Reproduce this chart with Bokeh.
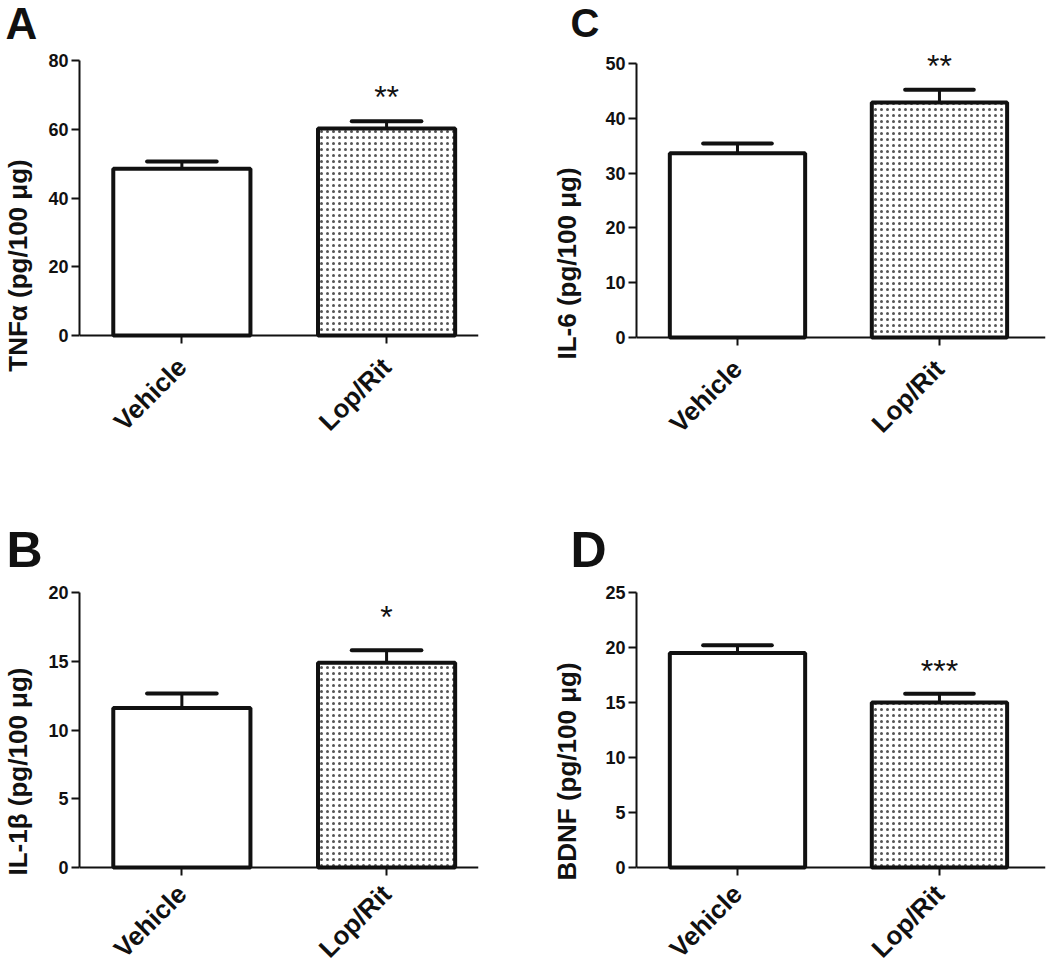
import math
from bokeh.plotting import figure
from bokeh.models import Range1d, FixedTicker, Label, ColumnDataSource
from bokeh.layouts import column, row
from bokeh.embed import file_html
from bokeh.resources import INLINE

# ---------------- data ----------------
categories = ["Vehicle", "Lop/Rit"]

tnf_mean = [48.5, 60.2]
tnf_sem = [2.1, 2.1]
il6_mean = [33.6, 42.9]
il6_sem = [1.8, 2.3]
il1b_mean = [11.6, 14.9]
il1b_sem = [1.05, 0.9]
bdnf_mean = [19.5, 15.0]
bdnf_sem = [0.7, 0.8]

tnf_ticks = [0, 20, 40, 60, 80]
il6_ticks = [0, 10, 20, 30, 40, 50]
il1b_ticks = [0, 5, 10, 15, 20]
bdnf_ticks = [0, 5, 10, 15, 20, 25]

sig_tnf = "**"
sig_il6 = "**"
sig_il1b = "*"
sig_bdnf = "***"

FONT = "Liberation Sans"
INK = "#111111"


def letter_strip(letter, width, height, lx, ly, size):
    p = figure(width=width, height=height, output_backend="svg",
               toolbar_location=None, tools="",
               x_range=Range1d(0, width), y_range=Range1d(0, height),
               x_axis_type=None, y_axis_type=None,
               min_border=0, min_border_left=0, min_border_right=0,
               min_border_top=0, min_border_bottom=0,
               frame_align=False)
    p.outline_line_color = None
    p.grid.visible = False
    p.add_layout(Label(x=lx, y=ly, text=letter, text_align="left",
                       text_baseline="alphabetic", text_font=FONT,
                       text_font_style="bold", text_font_size=f"{size}px",
                       text_color=INK))
    return p


def make_panel(ylabel, means, sems, yticks, sig,
               width, height, bl, br, x_end, frame_h, pad_px, below_px,
               star_dy, label_standoff, xlab_standoff):
    xs = [i + 1 for i in range(len(categories))]
    y_top = yticks[-1]
    per_px = y_top / frame_h
    y_end = y_top + pad_px * per_px
    y_start = -below_px * per_px
    p = figure(width=width, height=height, output_backend="svg",
               toolbar_location=None, tools="",
               x_range=Range1d(0.5, x_end),
               y_range=Range1d(y_start, y_end),
               min_border_left=bl, min_border_top=0,
               min_border_bottom=0, min_border_right=br,
               frame_align=False)
    p.outline_line_color = None
    p.grid.visible = False

    src = ColumnDataSource(dict(
        x=xs, top=means, sem=sems,
        err=[m + s for m, s in zip(means, sems)],
        pat=[" ", "."],
    ))
    p.vbar(x="x", top="top", bottom=0, width=0.67, source=src,
           fill_color="white", line_color=INK, line_width=4,
           hatch_pattern="pat", hatch_color="#555555",
           hatch_scale=6, hatch_weight=0.75)
    # error bars (upper only)
    p.segment(x0="x", y0="top", x1="x", y1="err", source=src,
              line_color=INK, line_width=3)
    cap_src = ColumnDataSource(dict(
        x0=[x - 0.17 for x in xs], x1=[x + 0.17 for x in xs],
        y=[m + s for m, s in zip(means, sems)]))
    p.segment(x0="x0", y0="y", x1="x1", y1="y", source=cap_src,
              line_color=INK, line_width=4, line_cap="round")

    # significance stars above Lop/Rit
    p.add_layout(Label(x=xs[1], y=means[1] + sems[1], y_offset=star_dy,
                       text=sig, text_align="center",
                       text_baseline="alphabetic", text_font=FONT,
                       text_font_size="32px", text_color=INK))

    # axes
    for ax in (p.xaxis[0], p.yaxis[0]):
        ax.axis_line_width = 2
        ax.axis_line_color = INK
        ax.major_tick_line_width = 2
        ax.major_tick_line_color = INK
        ax.major_tick_out = 8
        ax.major_tick_in = 0
        ax.minor_tick_line_color = None
        ax.major_label_text_font = FONT
        ax.major_label_text_font_style = "bold"
        ax.major_label_text_color = INK

    p.yaxis.bounds = (yticks[0], y_top)
    p.yaxis.ticker = FixedTicker(ticks=yticks)
    p.yaxis.major_label_text_font_size = "18px"
    p.yaxis.major_label_standoff = 3
    p.yaxis.axis_label = ylabel
    p.yaxis.axis_label_text_font = FONT
    p.yaxis.axis_label_text_font_style = "bold"
    p.yaxis.axis_label_text_font_size = "26px"
    p.yaxis.axis_label_text_color = INK
    p.yaxis.axis_label_standoff = label_standoff

    p.xaxis.ticker = FixedTicker(ticks=xs)
    p.xaxis.fixed_location = 0
    p.xaxis.major_label_overrides = {x: c for x, c in zip(xs, categories)}
    p.xaxis.major_label_orientation = math.pi / 4
    p.xaxis.major_label_text_font_size = "26px"
    p.xaxis.major_label_standoff = xlab_standoff
    return p


WL, WR = 500, 550

sA = letter_strip("A", WL, 50, 5, 27, 44)
sC = letter_strip("C", WR, 46, 70, 24, 40)
sB = letter_strip("B", WL, 100, 6, 31, 50)
sD = letter_strip("D", WR, 100, 70, 31, 50)

pA = make_panel("TNFα (pg/100 μg)", tnf_mean, tnf_sem, tnf_ticks, sig_tnf,
                WL, 430, 78, 22, 2.449, 275, 10, 145, 24, 12, 19)
pC = make_panel("IL-6 (pg/100 μg)", il6_mean, il6_sem, il6_ticks, sig_il6,
                WR, 434, 136, 5, 2.525, 274, 17, 143, 24, 20, 19)
pB = make_panel("IL-1β (pg/100 μg)", il1b_mean, il1b_sem, il1b_ticks, sig_il1b,
                WL, 382, 78, 22, 2.449, 275, 12, 95, 33, 12, 14)
pD = make_panel("BDNF (pg/100 μg)", bdnf_mean, bdnf_sem, bdnf_ticks, sig_bdnf,
                WR, 382, 136, 5, 2.525, 275, 12, 95, 23, 20, 14)

layout = row(column(sA, pA, sB, pB), column(sC, pC, sD, pD))
open("out.html", "w").write(file_html(layout, INLINE))
